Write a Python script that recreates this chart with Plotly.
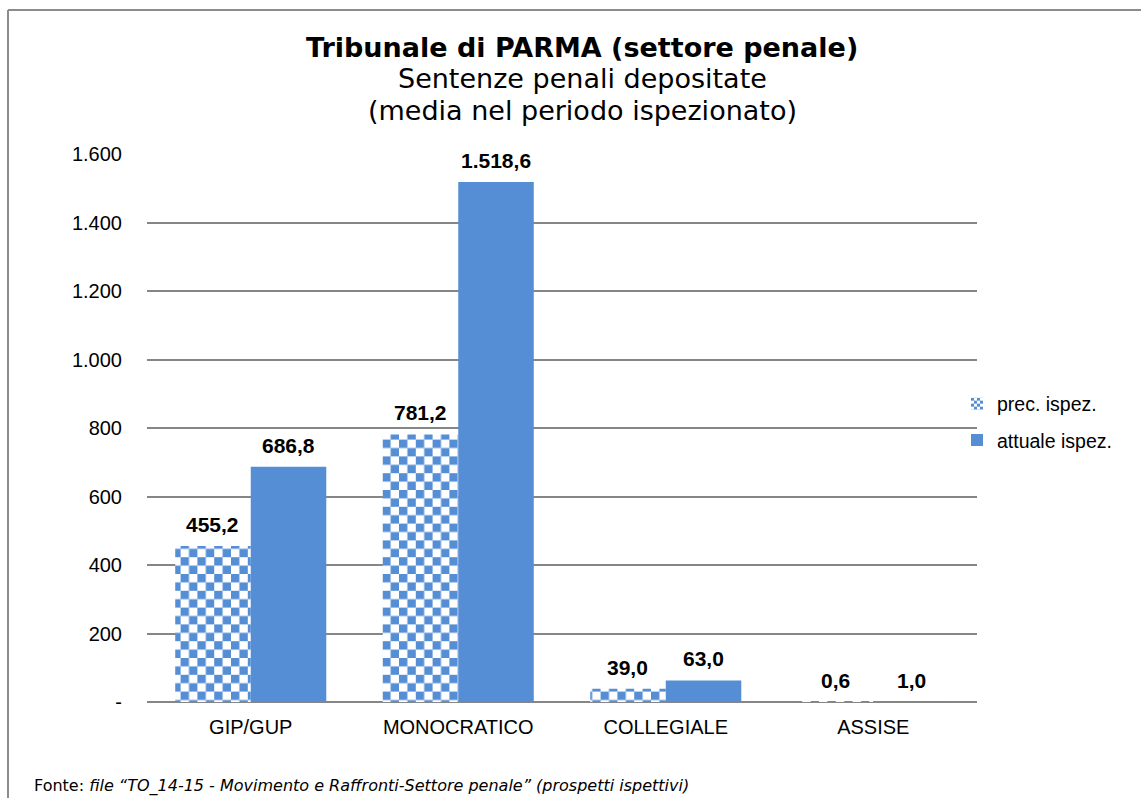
import plotly.graph_objects as go

# ---------------- data ----------------
categories = ["GIP/GUP", "MONOCRATICO", "COLLEGIALE", "ASSISE"]
prec_ispez = [455.2, 781.2, 39.0, 0.6]
attuale_ispez = [686.8, 1518.6, 63.0, 1.0]
series_names = ["prec. ispez.", "attuale ispez."]
y_tickvals = [0, 200, 400, 600, 800, 1000, 1200, 1400, 1600]
y_ticktext = ["-", "200", "400", "600", "800", "1.000", "1.200", "1.400", "1.600"]
title_lines = ["Tribunale di PARMA (settore penale)",
               "Sentenze penali depositate",
               "(media nel periodo ispezionato)"]
footer_plain = "Fonte: "
footer_italic = "file \u201cTO_14-15 - Movimento e Raffronti-Settore penale\u201d (prospetti ispettivi)"

# ---------------- layout geometry ----------------
FIG_W, FIG_H = 1141, 798
L, R, T, B = 147, 977, 154, 702
PW, PH = R - L, B - T
BARGAP = 0.272
BLUE = "#558ED5"
GRID = "#868686"
SANS = "Liberation Sans, Arial, sans-serif"
VERD = "DejaVu Sans, Verdana, sans-serif"


def px_x(x):
    return (x - L) / PW


def px_y(y):
    return (B - y) / PH


def it_fmt(v):
    s = f"{v:,.1f}"
    return s.replace(",", "X").replace(".", ",").replace("X", ".")


fig = go.Figure()
fig.add_trace(go.Bar(
    x=categories, y=prec_ispez, name=series_names[0],
    legendgroup="a",
    marker=dict(color="white", line=dict(width=0),
                pattern=dict(shape="+", fgcolor=BLUE, bgcolor="white",
                             size=8, solidity=0.5, fillmode="replace")),
    hoverinfo="x+y",
))
fig.add_trace(go.Bar(
    x=categories, y=attuale_ispez, name=series_names[1],
    legendgroup="b",
    marker=dict(color=BLUE, line=dict(width=0)),
    hoverinfo="x+y",
))

bar_px = (PW / len(categories)) * (1 - BARGAP) / 2
annotations = []
for series, shift in ((prec_ispez, -bar_px / 2), (attuale_ispez, bar_px / 2)):
    for c, v in zip(categories, series):
        annotations.append(dict(
            x=c, y=v, xref="x", yref="y", xshift=shift, yshift=8,
            text=f"<b>{it_fmt(v)}</b>", showarrow=False, yanchor="bottom",
            font=dict(family=SANS, size=21, color="black"),
        ))

# title lines
title_x = px_x(582)
annotations.append(dict(x=title_x, y=px_y(47), xref="paper", yref="paper",
                        text=f"<b>{title_lines[0]}</b>", showarrow=False,
                        xanchor="center", yanchor="middle",
                        font=dict(family=VERD, size=27, color="black")))
annotations.append(dict(x=title_x, y=px_y(78), xref="paper", yref="paper",
                        text=title_lines[1], showarrow=False,
                        xanchor="center", yanchor="middle",
                        font=dict(family=VERD, size=27, color="black")))
annotations.append(dict(x=title_x, y=px_y(110), xref="paper", yref="paper",
                        text=title_lines[2], showarrow=False,
                        xanchor="center", yanchor="middle",
                        font=dict(family=VERD, size=27, color="black")))
# footer
annotations.append(dict(x=px_x(32), y=px_y(786), xref="paper", yref="paper",
                        text=f"{footer_plain}<i>{footer_italic}</i>", showarrow=False,
                        xanchor="left", yanchor="middle",
                        font=dict(family=VERD, size=16, color="black")))

shapes = [
    dict(type="line", xref="paper", yref="paper",
         x0=px_x(8), x1=px_x(FIG_W + 2), y0=px_y(10), y1=px_y(10),
         line=dict(color="#8c8c8c", width=2)),
    dict(type="line", xref="paper", yref="paper",
         x0=px_x(8), x1=px_x(8), y0=px_y(10), y1=px_y(FIG_H + 2),
         line=dict(color="#8c8c8c", width=2)),
]

fig.update_layout(
    width=FIG_W, height=FIG_H,
    margin=dict(l=L, r=FIG_W - R, t=T, b=FIG_H - B, pad=0),
    paper_bgcolor="white", plot_bgcolor="white",
    barmode="group", bargap=BARGAP, bargroupgap=0,
    showlegend=True,
    legend=dict(x=px_x(957), y=px_y(422), xanchor="left", yanchor="middle",
                font=dict(family=SANS, size=19.5, color="black"),
                traceorder="grouped", tracegroupgap=8,
                bgcolor="rgba(0,0,0,0)", borderwidth=0),
    annotations=annotations,
    shapes=shapes,
    font=dict(family=SANS, color="black"),
)
fig.update_xaxes(
    type="category", showgrid=False, showline=False, zeroline=False,
    ticks="", tickfont=dict(family=SANS, size=20, color="black"),
    ticklabelstandoff=11,
)
fig.update_yaxes(
    range=[0, 1600], tickvals=y_tickvals, ticktext=y_ticktext,
    showgrid=True, gridcolor=GRID, gridwidth=1.6,
    zeroline=True, zerolinecolor=GRID, zerolinewidth=2,
    showline=False, ticks="",
    tickfont=dict(family=SANS, size=20, color="black"),
    ticklabelstandoff=24,
)

post_js = r"""
document.body.style.margin = '0';
document.body.style.padding = '0';
var gd = document.getElementById('{plot_id}');
function checker(){
  var NS = 'http://www.w3.org/2000/svg';
  gd.querySelectorAll('pattern').forEach(function(p){
    if (p.getAttribute('data-ck')) return;
    p.setAttribute('data-ck', '1');
    var isLeg = (p.id || '').toLowerCase().indexOf('legend') >= 0;
    var s = isLeg ? 3 : 8.4;
    p.setAttribute('width', 2 * s); p.setAttribute('height', 2 * s);
    p.setAttribute('patternUnits', 'userSpaceOnUse');
    p.removeAttribute('patternTransform');
    p.removeAttribute('viewBox');
    while (p.firstChild) p.removeChild(p.firstChild);
    [[0, 0, 2 * s, 2 * s, '#ffffff'], [0, 0, s, s, '#558ED5'], [s, s, s, s, '#558ED5']].forEach(function(r){
      var e = document.createElementNS(NS, 'rect');
      e.setAttribute('x', r[0]); e.setAttribute('y', r[1]);
      e.setAttribute('width', r[2]); e.setAttribute('height', r[3]);
      e.setAttribute('fill', r[4]);
      p.appendChild(e);
    });
  });
}
checker();
if (gd.on) gd.on('plotly_afterplot', checker);
"""

fig.write_html("out.html", post_script=post_js, config={"displayModeBar": False})
